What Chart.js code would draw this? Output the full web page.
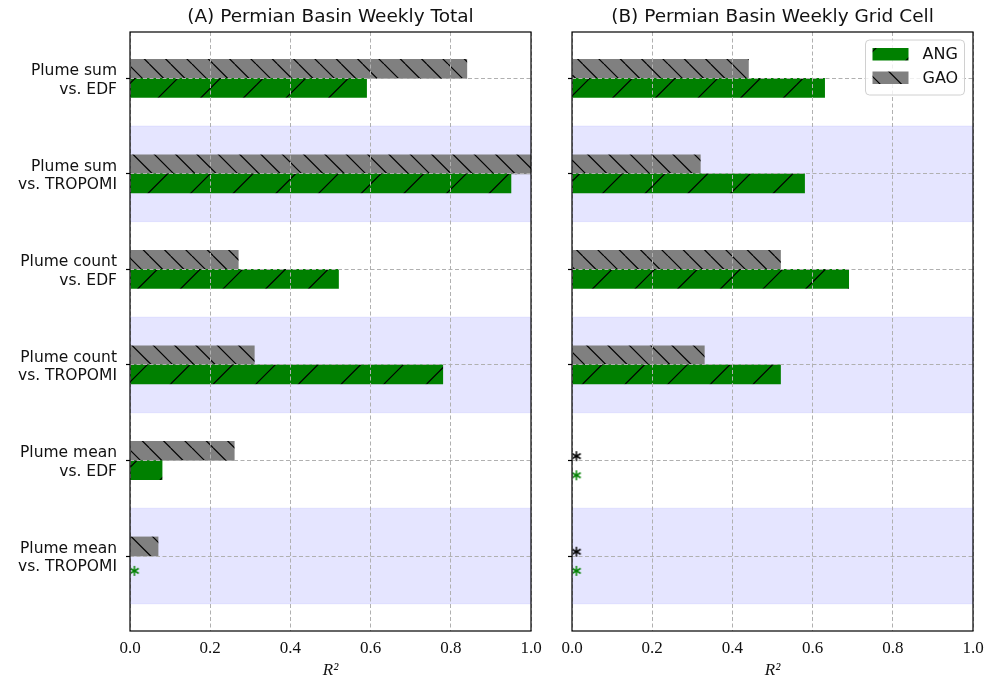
<!DOCTYPE html>
<html>
<head>
<meta charset="utf-8">
<script src="https://cdn.jsdelivr.net/npm/chart.js@4.4.0/dist/chart.umd.min.js"></script>
<style>
  body { margin: 0; background: #fff; width: 987px; height: 684px; position: relative; overflow: hidden; font-family: "DejaVu Sans", sans-serif; }
  .panel { position: absolute; top: 0; height: 684px; }
  .panel canvas { display: block; }
  .title { position: absolute; top: 3px; font-size: 18.5px; line-height: 26px; text-align: center; color: #111; }
</style>
</head>
<body>
<div class="panel" style="left:0;width:560px"><canvas id="chartA" width="560" height="684"></canvas></div>
<div class="panel" style="left:540px;width:447px"><canvas id="chartB" width="447" height="684"></canvas></div>
<div class="title" style="left:130px;width:401px">(A) Permian Basin Weekly Total</div>
<div class="title" style="left:572px;width:401px">(B) Permian Basin Weekly Grid Cell</div>
<script>
// rows, top to bottom
const categories = [
  ['Plume sum', 'vs. EDF'],
  ['Plume sum', 'vs. TROPOMI'],
  ['Plume count', 'vs. EDF'],
  ['Plume count', 'vs. TROPOMI'],
  ['Plume mean', 'vs. EDF'],
  ['Plume mean', 'vs. TROPOMI']
];
const xTicks = [0, 0.2, 0.4, 0.6, 0.8, 1.0];

// R^2 values, null = no fit (shown with a *)
const angTotal = [0.59, 0.95, 0.52, 0.78, 0.08, null];
const gaoTotal = [0.84, 1.00, 0.27, 0.31, 0.26, 0.07];
const angGrid = [0.63, 0.58, 0.69, 0.52, null, null];
const gaoGrid = [0.44, 0.32, 0.52, 0.33, null, null];

const shadedRows = [1, 3, 5];

Chart.defaults.font.family = '"DejaVu Sans", sans-serif';
Chart.defaults.color = '#111';

// hatch fill: n diagonal lines per tile
function hatch(ctx, color, size, n, dir) {
  const c = document.createElement('canvas');
  c.width = c.height = size;
  const g = c.getContext('2d');
  g.fillStyle = color;
  g.fillRect(0, 0, size, size);
  g.strokeStyle = '#000';
  g.lineWidth = 1.2;
  const step = size / n;
  for (let k = -n; k <= n; k++) {
    g.beginPath();
    if (dir === '/') {
      g.moveTo(k * step, size);
      g.lineTo(k * step + size, 0);
    } else {
      g.moveTo(k * step, 0);
      g.lineTo(k * step + size, size);
    }
    g.stroke();
  }
  return ctx.createPattern(c, 'repeat');
}

function asterisk(color) {
  const c = document.createElement('canvas');
  c.width = c.height = 14;
  const g = c.getContext('2d');
  g.strokeStyle = color;
  g.lineWidth = 1.5;
  for (let a = 0; a < 3; a++) {
    const t = Math.PI / 2 + a * Math.PI / 3;
    g.beginPath();
    g.moveTo(7 - 5 * Math.cos(t), 7 - 5 * Math.sin(t));
    g.lineTo(7 + 5 * Math.cos(t), 7 + 5 * Math.sin(t));
    g.stroke();
  }
  return c;
}

const bandPlugin = {
  id: 'bands',
  beforeDatasetsDraw(chart) {
    const { ctx, chartArea: a, scales: { y } } = chart;
    ctx.save();
    shadedRows.forEach(r => {
      const y0 = y.getPixelForValue(r - 0.5);
      const y1 = y.getPixelForValue(r + 0.5);
      ctx.fillStyle = 'rgba(0,0,255,0.1)';
      ctx.fillRect(a.left, y0, a.right - a.left, y1 - y0);
      ctx.strokeStyle = 'rgba(0,0,255,0.08)';
      ctx.lineWidth = 1;
      ctx.strokeRect(a.left, y0, a.right - a.left, y1 - y0);
    });
    ctx.restore();
  }
};

const framePlugin = {
  id: 'frame',
  afterDraw(chart) {
    const { ctx, chartArea: a } = chart;
    ctx.save();
    ctx.strokeStyle = '#000';
    ctx.lineWidth = 1.2;
    ctx.strokeRect(a.left, a.top, a.right - a.left, a.bottom - a.top);
    ctx.restore();
  }
};

function makeChart(id, ang, gao, opts) {
  const canvas = document.getElementById(id);
  const ctx = canvas.getContext('2d');
  const angFill = hatch(ctx, 'green', 128, 3, '/');
  const gaoFill = hatch(ctx, 'gray', 64, 3, '\\');

  const bars = (vals, off) => vals.map((v, i) => v === null ? null : { x: v, y: i + off }).filter(Boolean);
  const stars = (vals, off) => vals.map((v, i) => v === null ? { x: 0.011, y: i + off + 0.055 } : null).filter(Boolean);

  const legendPlugin = {
    id: 'legendBox',
    afterDraw(chart) {
      if (!opts.legend) return;
      const { ctx, chartArea: a } = chart;
      const w = 99, h = 55;
      const x0 = a.right - 8.5 - w, y0 = a.top + 8;
      ctx.save();
      ctx.beginPath();
      ctx.roundRect(x0, y0, w, h, 4);
      ctx.fillStyle = 'rgba(255,255,255,0.8)';
      ctx.fill();
      ctx.strokeStyle = '#d0d0d0';
      ctx.lineWidth = 1;
      ctx.stroke();
      [['ANG', angFill], ['GAO', gaoFill]].forEach(([label, fill], k) => {
        const cy = y0 + 14 + k * 23.5;
        ctx.fillStyle = fill;
        ctx.fillRect(x0 + 7, cy - 6, 36, 12.5);
        ctx.fillStyle = '#111';
        ctx.font = '16px "DejaVu Sans"';
        ctx.textBaseline = 'middle';
        ctx.fillText(label, x0 + 57, cy + 1);
      });
      ctx.restore();
    }
  };

  return new Chart(ctx, {
    type: 'bar',
    data: {
      datasets: [
        { label: 'ANG', data: bars(ang, 0.1), backgroundColor: angFill, borderWidth: 0, grouped: false, barThickness: 19.1 },
        { label: 'GAO', data: bars(gao, -0.1), backgroundColor: gaoFill, borderWidth: 0, grouped: false, barThickness: 19.1 },
        { type: 'scatter', label: 'ANG *', data: stars(ang, 0.1), pointStyle: asterisk('green'), radius: 5 },
        { type: 'scatter', label: 'GAO *', data: stars(gao, -0.1), pointStyle: asterisk('#000'), radius: 5 }
      ]
    },
    options: {
      indexAxis: 'y',
      responsive: false,
      animation: false,
      layout: { padding: { top: 32, right: opts.padRight, bottom: 0, left: 0 } },
      plugins: { legend: { display: false }, tooltip: { enabled: false } },
      scales: {
        x: {
          type: 'linear', position: 'bottom', min: 0, max: 1, offset: false,
          afterBuildTicks: s => { s.ticks = xTicks.map(v => ({ value: v })); },
          afterFit: s => { s.height = 53; s.paddingLeft = 0; s.paddingRight = 0; },
          ticks: {
            callback: v => v.toFixed(1),
            font: { family: '"Liberation Serif", serif', size: 17 },
            padding: 7, maxRotation: 0, autoSkip: false
          },
          grid: { color: '#b0b0b0', lineWidth: 1, drawTicks: false, offset: false, z: 1 },
          border: { display: false, dash: [4, 2.5] },
          title: {
            display: true, text: 'R²',
            font: { family: '"Liberation Serif", serif', style: 'italic', size: 17 },
            padding: { top: 0, bottom: 3 }
          }
        },
        y: {
          type: 'linear', position: 'left', min: -0.485, max: 5.785, reverse: true, offset: false,
          afterBuildTicks: s => { s.ticks = categories.map((c, i) => ({ value: i })); },
          afterFit: s => { s.width = opts.axisWidth; s.paddingTop = 0; s.paddingBottom = 0; },
          ticks: {
            display: opts.showLabels,
            callback: (v, i) => categories[i],
            font: { size: 15.5, lineHeight: 1.18 },
            padding: 9, labelOffset: 2, autoSkip: false
          },
          grid: {
            color: '#b0b0b0', lineWidth: 1, offset: false,
            tickLength: 4, tickColor: '#000', tickBorderDash: [], tickWidth: 1.2, z: 1
          },
          border: { display: false, dash: [4, 2.5] }
        }
      }
    },
    plugins: [bandPlugin, framePlugin, legendPlugin]
  });
}

makeChart('chartA', angTotal, gaoTotal, { padRight: 29, axisWidth: 130, showLabels: true, legend: false });
makeChart('chartB', angGrid, gaoGrid, { padRight: 14, axisWidth: 32, showLabels: false, legend: true });
</script>
</body>
</html>
